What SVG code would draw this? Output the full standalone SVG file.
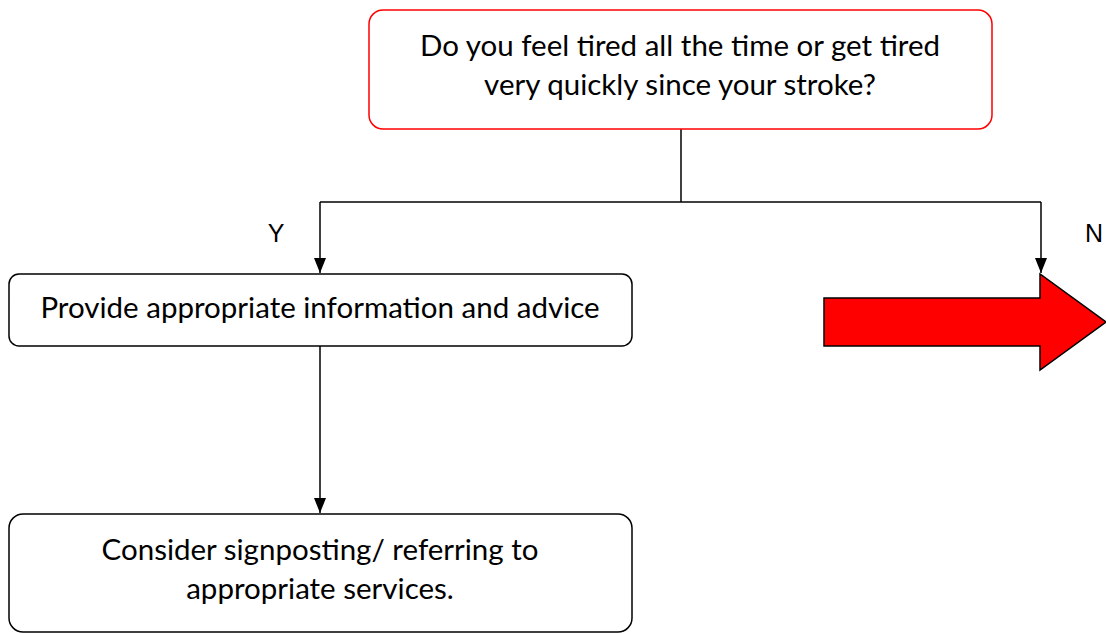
<svg xmlns="http://www.w3.org/2000/svg" width="1106" height="633" viewBox="0 0 1106 633">
  <style>
    .box { fill: #ffffff; stroke: #000000; stroke-width: 1.5; }
    .question { fill: #ffffff; stroke: #ff0000; stroke-width: 1.5; }
    .label { font-family: Lato, "Liberation Sans", sans-serif; font-size: 29.5px; fill: #000000; text-anchor: middle; }
    .branch { font-family: "Liberation Sans", Arial, sans-serif; font-size: 25px; fill: #000000; text-anchor: middle; }
    .link { fill: none; stroke: #000000; stroke-width: 1.5; }
  </style>
  <defs>
    <marker id="head" viewBox="0 0 15 12" refX="15" refY="6" markerWidth="15" markerHeight="12" markerUnits="userSpaceOnUse" orient="auto">
      <path d="M0,0 L15,6 L0,12 z" fill="#000000"/>
    </marker>
  </defs>

  <rect width="1106" height="633" fill="#ffffff"/>

  <g id="connectors">
    <path class="link" d="M681,129 V202"/>
    <path class="link" d="M320,202 H1041"/>
    <path class="link" d="M320,202 V273" marker-end="url(#head)"/>
    <path class="link" d="M1041,202 V273" marker-end="url(#head)"/>
    <path class="link" d="M320,346 V513" marker-end="url(#head)"/>
  </g>

  <g id="question">
    <rect class="question" x="369" y="10" width="623" height="119" rx="14" ry="14"/>
    <text class="label" x="680" y="56">Do you feel tired all the time or get tired</text>
    <text class="label" x="680" y="95">very quickly since your stroke?</text>
  </g>

  <g id="label-yes">
    <text class="branch" x="276" y="242">Y</text>
  </g>
  <g id="label-no">
    <text class="branch" x="1094" y="242">N</text>
  </g>

  <g id="advice">
    <rect class="box" x="9" y="274" width="623" height="72" rx="10" ry="10"/>
    <text class="label" x="320" y="318">Provide appropriate information and advice</text>
  </g>

  <g id="signpost">
    <rect class="box" x="9" y="514" width="623" height="118" rx="14" ry="14"/>
    <text class="label" x="320" y="560">Consider signposting/ referring to</text>
    <text class="label" x="320" y="599">appropriate services.</text>
  </g>

  <g id="exit-arrow">
    <path d="M824,298 H1040 V274 L1106,322 L1040,370 V346 H824 Z" fill="#ff0000" stroke="#000000" stroke-width="1.5" stroke-linejoin="miter"/>
  </g>
</svg>
